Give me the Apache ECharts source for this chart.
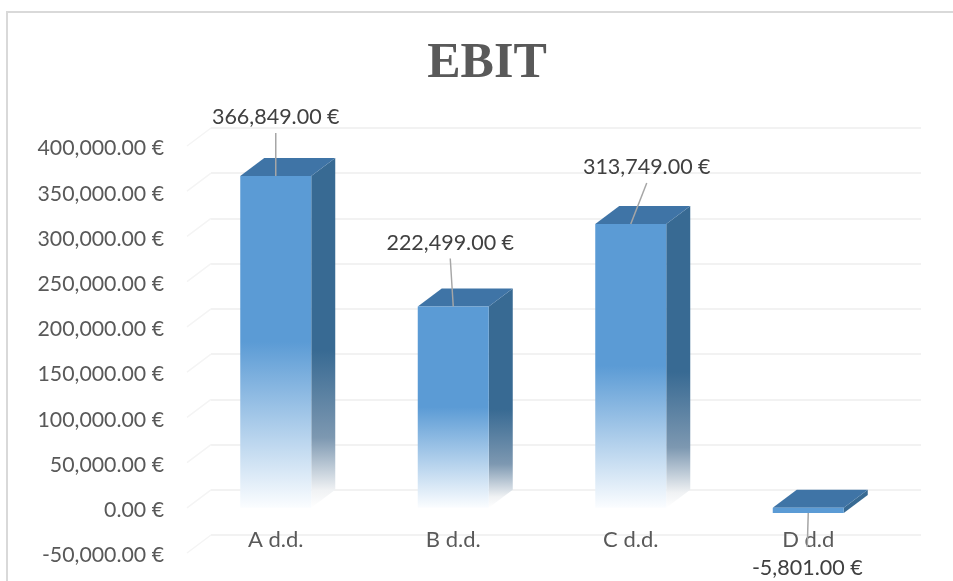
<!DOCTYPE html>
<html>
<head>
<meta charset="utf-8">
<title>EBIT</title>
<style>
  html, body { margin: 0; padding: 0; background: #fff; }
  #chart { width: 953px; height: 581px; }
</style>
</head>
<body>
<div id="chart"></div>
<script src="https://cdn.jsdelivr.net/npm/echarts@6/dist/echarts.min.js"></script>
<script>
const categories = ['A d.d.', 'B d.d.', 'C d.d.', 'D d.d']
const ebitValues = [366849, 222499, 313749, -5801]
const axisTicks = [-50000, 0, 50000, 100000, 150000, 200000, 250000, 300000, 350000, 400000]

// depth of the fake 3d box, front plane to back wall
const depthX = 24
const depthY = -18
// hand placed data labels, relative to the bar's top middle
const labelNudge = [[0, -60], [-3, -65], [16, -58], [-1, 54]]

const money = v => v.toLocaleString('en-US', { minimumFractionDigits: 2, maximumFractionDigits: 2 }) + ' €'
const fade = (color) => new echarts.graphic.LinearGradient(0, 0, 0, 1, [
  { offset: 0, color },
  { offset: 0.5, color },
  { offset: 1, color: '#fbfdff' }
])
const fadeSide = (color) => new echarts.graphic.LinearGradient(0, 0, 0, 1, [
  { offset: 0, color },
  { offset: 0.55, color },
  { offset: 0.8, color: '#7d98b1' },
  { offset: 0.95, color: '#f0f2f4' },
  { offset: 1, color: '#ffffff' }
])

function renderBar(params, api) {
  const i = api.value(0)
  const value = api.value(1)
  const w = api.size([1, 0])[0] * 0.4
  const valuePt = api.coord([i, value])
  const zeroPt = api.coord([i, 0])
  const x0 = valuePt[0] - w / 2
  const x1 = x0 + w
  const top = Math.min(valuePt[1], zeroPt[1])
  const bottom = Math.max(valuePt[1], zeroPt[1])
  const positive = value > 0
  const nudge = labelNudge[i]
  const lx = valuePt[0] + nudge[0]
  const ly = valuePt[1] + nudge[1]
  return {
    type: 'group',
    children: [
      {
        type: 'polygon',
        shape: { points: [[x1, top], [x1 + depthX, top + depthY], [x1 + depthX, bottom + depthY], [x1, bottom]] },
        style: { fill: positive ? fadeSide('#386a93') : '#386a93' }
      },
      {
        type: 'polygon',
        shape: { points: [[x0, top], [x0 + depthX, top + depthY], [x1 + depthX, top + depthY], [x1, top]] },
        style: { fill: '#3f74a6' }
      },
      {
        type: 'rect',
        shape: { x: x0, y: top, width: w, height: bottom - top },
        style: { fill: positive ? fade('#5b9bd5') : '#5b9bd5' }
      },
      {
        type: 'line',
        shape: { x1: lx, y1: ly + (positive ? 17 : -20), x2: valuePt[0], y2: valuePt[1] },
        style: { stroke: '#a6a6a6', lineWidth: 1.5 }
      },
      {
        type: 'text',
        style: {
          x: lx,
          y: ly + 1.5,
          text: money(value),
          fill: '#404040',
          font: '21.5px Lato',
          align: 'center',
          verticalAlign: 'middle'
        }
      }
    ]
  }
}

function renderWall(params, api) {
  const pt = api.coord([0, api.value(0)])
  const x = pt[0] - api.size([1, 0])[0] / 2
  return {
    type: 'line',
    shape: { x1: x, y1: pt[1], x2: x + depthX, y2: pt[1] + depthY },
    style: { stroke: '#f4f4f4', lineWidth: 1.5 }
  }
}

const chart = echarts.init(document.getElementById('chart'))
chart.setOption({
  animation: false,
  backgroundColor: '#fff',
  title: {
    text: 'EBIT',
    left: 482,
    top: 34,
    textAlign: 'center',
    textStyle: { fontFamily: 'Liberation Serif', fontWeight: 'bold', fontSize: 50, color: '#595959' }
  },
  graphic: [{
    type: 'rect',
    silent: true,
    shape: { x: 7, y: 12, width: 1000, height: 1000 },
    style: { fill: 'none', stroke: '#d9d9d9', lineWidth: 2 }
  }],
  grid: [
    // back wall, carries the grid lines
    { left: 211, top: 128, width: 710, height: 407, outerBoundsMode: 'none' },
    // front plane, carries bars and labels
    { left: 187, top: 146, width: 710, height: 407, outerBoundsMode: 'none' }
  ],
  xAxis: [
    { gridIndex: 0, type: 'category', data: categories, show: false },
    {
      gridIndex: 1,
      type: 'category',
      data: categories,
      axisLine: { show: false, onZero: false },
      axisTick: { show: false },
      // labels sit inside the plot, just under the floor
      axisLabel: { margin: -24, fontFamily: 'Lato', fontSize: 22, color: '#595959' }
    }
  ],
  yAxis: [
    {
      gridIndex: 0,
      type: 'value',
      min: -50000,
      max: 400000,
      interval: 50000,
      axisLine: { show: false },
      axisTick: { show: false },
      axisLabel: { show: false },
      splitLine: { lineStyle: { color: '#f2f2f2', width: 2 } }
    },
    {
      gridIndex: 1,
      type: 'value',
      min: -50000,
      max: 400000,
      interval: 50000,
      axisLine: { show: false },
      axisTick: { show: false },
      axisLabel: {
        margin: 23,
        formatter: v => '{a|' + money(v) + '}',
        rich: { a: { padding: [5, 0, 0, 0], fontFamily: 'Lato', fontSize: 21.3, color: '#595959' } }
      },
      splitLine: { show: false }
    }
  ],
  series: [
    {
      type: 'custom',
      name: 'wall',
      xAxisIndex: 1,
      yAxisIndex: 1,
      silent: true,
      renderItem: renderWall,
      encode: { y: 0 },
      data: axisTicks.map(t => [t])
    },
    {
      type: 'custom',
      name: 'EBIT',
      xAxisIndex: 1,
      yAxisIndex: 1,
      z: 5,
      renderItem: renderBar,
      encode: { x: 0, y: 1 },
      data: ebitValues.map((v, i) => [i, v])
    }
  ]
})
</script>
</body>
</html>
